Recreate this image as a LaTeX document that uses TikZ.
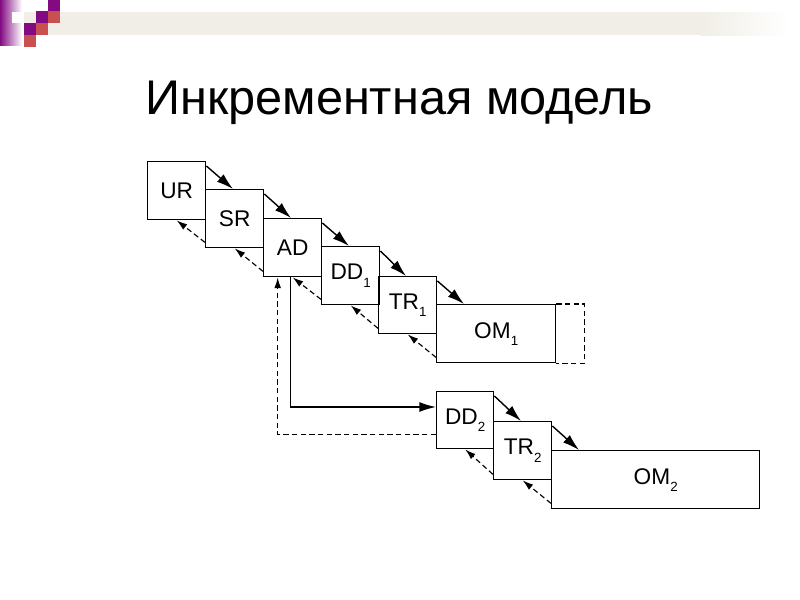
\documentclass[tikz,border=0pt]{standalone}
\usepackage{fontspec}
\setmainfont{Liberation Sans}
\usetikzlibrary{arrows.meta,calc}
\definecolor{sqpurple}{RGB}{130,10,130}
\definecolor{sqred}{RGB}{200,80,78}
\definecolor{barbeige}{RGB}{240,238,230}
\newcommand{\lowsub}[1]{\raisebox{-0.6ex}{\fontsize{10}{11}\selectfont #1}}
\begin{document}
\begin{tikzpicture}[x=0.75pt,y=-0.75pt,
  box/.style={draw, line width=1.05pt, rectangle, inner sep=0pt, anchor=north west,
              font=\fontsize{17}{20}\selectfont},
  bw/.style={minimum width=#1*0.75pt},
  bh/.style={minimum height=#1*0.75pt},
  fwd/.style={line width=1.05pt, -{Latex[length=12.5pt,width=7.5pt]}},
  bwd/.style={line width=0.85pt, dash pattern=on 4pt off 2.5pt, -{Latex[length=8pt,width=5pt]}}]
\useasboundingbox[fill=white] (0,0) rectangle (800,600);
% decoration
\fill[barbeige] (24,12) rectangle (700,35);
\shade[left color=barbeige, right color=white] (700,12) rectangle (790,35);
\shade[left color=sqpurple, right color=white] (0,0) rectangle (22,45);
\fill[white!95!barbeige] (12,12) rectangle (24,23);
\fill[sqpurple] (48,0) rectangle (60,11);
\fill[sqpurple] (36,11) rectangle (48,23);
\fill[sqred] (48,11) rectangle (60,23);
\fill[sqpurple] (24,23) rectangle (36,35);
\fill[sqred] (36,23) rectangle (48,35);
\fill[sqred] (24,35) rectangle (36,47);
% title
\node[anchor=base west, inner sep=0pt, font=\fontsize{36.5}{41}\selectfont] (title) at (145,114) {Инкрементная модель};
% boxes
\node[box, bw=58, bh=58] (UR) at (147,161) {UR};
\node[box, bw=58, bh=58] (SR) at (205,189) {SR};
\node[box, bw=58, bh=58] (AD) at (263,218) {AD};
\node[box, bw=58, bh=58] (DD1) at (321,246) {DD\lowsub{1}};
\node[box, bw=58, bh=57] (TR1) at (378,276) {TR\lowsub{1}};
\node[box, bw=119, bh=58] (OM1) at (436,304) {OM\lowsub{1}};
\node[box, bw=57, bh=57] (DD2) at (436,391) {DD\lowsub{2}};
\node[box, bw=58, bh=58] (TR2) at (493,421) {TR\lowsub{2}};
\node[box, bw=208, bh=58] (OM2) at (551,450) {OM\lowsub{2}};
\draw[line width=0.9pt, dash pattern=on 4pt off 2.5pt] (OM1.north east) -- ++(28,0) |- (OM1.south east);
% forward and backward arrows
\foreach \a/\b in {UR/SR, SR/AD, AD/DD1, DD1/TR1, TR1/OM1, DD2/TR2, TR2/OM2}{
  \draw[fwd] ($(\a.north east)+(0,5)$) -- ($(\b.north west)+(28,0)$);
  \draw[bwd] ($(\b.south west)+(0,-6)$) -- (\a.south);
}
% AD <-> DD2
\draw[fwd] ($(AD.south)+(-2,0)$) |- ($(DD2.north west)+(0,16)$);
\draw[bwd] ($(DD2.south west)+(0,-15)$) -| ($(AD.south)+(-15,0)$);
\end{tikzpicture}
\end{document}
